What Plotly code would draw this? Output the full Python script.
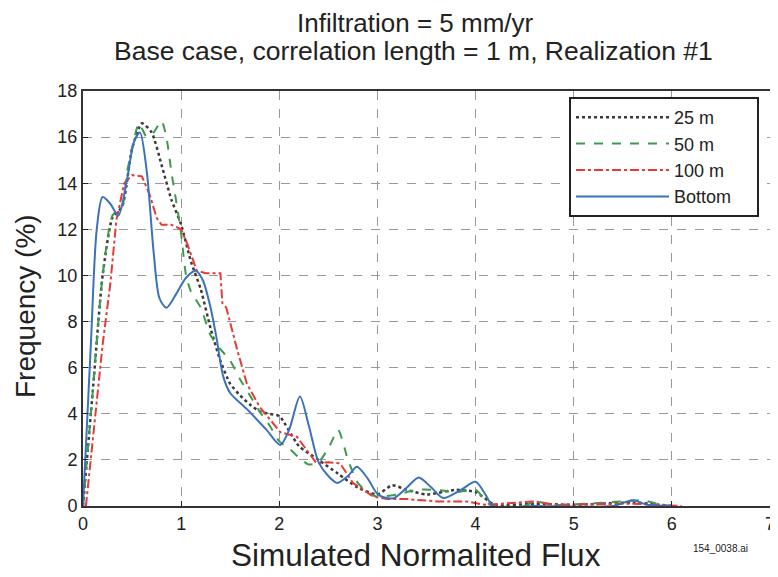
import plotly.graph_objects as go

x25 = [0, 0.1, 0.2, 0.3, 0.4, 0.5, 0.6, 0.7, 0.8, 0.9, 1.0, 1.1, 1.2, 1.3, 1.4, 1.5, 1.6, 1.7, 1.8, 1.9, 2.0,
       2.2, 2.4, 2.6, 2.8, 3.0, 3.15, 3.3, 3.5, 3.8, 4.0, 4.2, 4.6, 5.0, 5.6, 6.0]
y25 = [0, 5, 10, 12.5, 13, 15.5, 16.6, 16.2, 14.8, 13.3, 12.2, 10.6, 9.4, 7.7, 6.3, 5.3, 4.8, 4.4, 4.1, 4.0, 3.9,
       2.6, 2.0, 1.4, 0.8, 0.5, 0.9, 0.7, 0.5, 0.7, 0.6, 0.05, 0.1, 0.05, 0.15, 0]

x50 = [0, 0.1, 0.2, 0.3, 0.4, 0.45, 0.5, 0.57, 0.65, 0.72, 0.8, 0.85, 0.9, 0.95, 1.0, 1.05, 1.1, 1.2, 1.3, 1.4,
       1.5, 1.6, 1.7, 1.8, 1.9, 2.0, 2.1, 2.2, 2.3, 2.4, 2.5, 2.6, 2.7, 2.8, 2.9, 3.0, 3.2, 3.4, 3.6, 3.8, 4.0,
       4.15, 4.5, 4.6, 4.8, 5.5, 5.7, 5.9, 6.0]
y50 = [0, 5, 10, 12.6, 13, 14.5, 15.5, 16.6, 16.0, 16.2, 16.7, 16.0, 14.5, 13.2, 11.8, 10.0, 9.3, 8.6, 7.4, 6.8,
       6.3, 5.5, 4.8, 4.1, 3.5, 2.8, 2.5, 2.1, 1.8, 1.9, 2.5, 3.3, 2.0, 1.0, 0.6, 0.4, 0.5, 0.7, 0.7, 0.6, 0.7,
       0.05, 0.0, 0.2, 0.05, 0.2, 0.25, 0.05, 0]

x100 = [0.03, 0.1, 0.2, 0.28, 0.34, 0.42, 0.5, 0.6, 0.68, 0.75, 0.8, 0.9, 1.0, 1.06, 1.16, 1.25, 1.4, 1.42,
        1.46, 1.57, 1.67, 1.8, 1.91, 2.01, 2.18, 2.28, 2.38, 2.5, 2.62, 2.75, 2.96, 3.1, 3.3, 3.6, 3.9, 4.1,
        4.6, 4.8, 5.6, 6.1]
y100 = [0, 3, 7, 9.7, 12.4, 14.0, 14.35, 14.3, 13.5, 12.5, 12.2, 12.2, 12.0, 11.4, 10.2, 10.1, 10.1, 8.8,
        8.6, 6.8, 5.3, 4.3, 3.7, 3.2, 3.0, 2.4, 1.85, 1.9, 1.85, 1.0, 0.4, 0.3, 0.3, 0.2, 0.2, 0.05,
        0.2, 0.05, 0.1, 0]

xbot = [0, 0.08, 0.14, 0.2, 0.28, 0.36, 0.45, 0.52, 0.58, 0.65, 0.72, 0.78, 0.85, 0.95, 1.05, 1.15, 1.22, 1.3,
        1.36, 1.43, 1.5, 1.67, 1.87, 2.01, 2.1, 2.21, 2.3, 2.4, 2.5, 2.59, 2.7, 2.79, 2.9, 3.01, 3.16, 3.3,
        3.42, 3.55, 3.67, 3.85, 4.0, 4.1, 4.18, 4.6, 5.4, 5.6, 5.75, 6.0]
ybot = [0, 7, 12, 13.4, 13.1, 12.6, 14.2, 15.8, 16.2, 14.5, 11.0, 9.0, 8.6, 9.2, 9.9, 10.2, 9.8, 8.6,
        7.3, 5.6, 4.9, 4.2, 3.3, 2.65, 3.3, 4.75, 3.5, 1.9, 1.3, 1.0, 1.3, 1.7, 1.2, 0.48, 0.33, 0.8,
        1.24, 0.8, 0.35, 0.7, 1.05, 0.5, 0.0, 0.0, 0.0, 0.25, 0.05, 0]

xticks = [0, 1, 2, 3, 4, 5, 6, 7]
yticks = [0, 2, 4, 6, 8, 10, 12, 14, 16, 18]

FONT = "Liberation Sans, Arial, sans-serif"
INK = "#222"
PAD = "&nbsp;" * 4

fig = go.Figure()
fig.add_trace(go.Scatter(x=x25, y=y25, name="25 m" + PAD, mode="lines",
                         line=dict(color="#3a3a3a", dash="dot", width=2.5, shape="spline", smoothing=0.6)))
fig.add_trace(go.Scatter(x=x50, y=y50, name="50 m", mode="lines",
                         line=dict(color="#3f9a4e", dash="dash", width=2, shape="spline", smoothing=0.6)))
fig.add_trace(go.Scatter(x=x100, y=y100, name="100 m", mode="lines",
                         line=dict(color="#e63a34", dash="dashdot", width=2, shape="linear")))
fig.add_trace(go.Scatter(x=xbot, y=ybot, name="Bottom" + PAD, mode="lines",
                         line=dict(color="#3c72b8", width=2, shape="spline", smoothing=0.8)))

# page has an 8px body margin: figure is 770x569 placed at page (8, 8)
# plot area spans page x 83..770, y 91..506
fig.update_layout(
    width=770, height=569,
    margin=dict(l=75, r=8, t=83, b=71, autoexpand=False),
    paper_bgcolor="white", plot_bgcolor="white",
    font=dict(family=FONT, color=INK),
    legend=dict(x=(569 - 83) / 687, y=(506 - 97) / 415, xanchor="left", yanchor="top",
                bgcolor="white", bordercolor=INK, borderwidth=2, itemwidth=93,
                font=dict(size=18, family=FONT, color=INK), tracegroupgap=0),
    showlegend=True,
)
fig.update_xaxes(range=[0, 7], tickvals=xticks, ticktext=[str(v) for v in xticks],
                 showgrid=True, gridcolor="#999", griddash="dash", gridwidth=1,
                 showline=True, linecolor="#333", linewidth=2, mirror=True,
                 ticks="inside", ticklen=5, tickcolor=INK, automargin=False,
                 tickfont=dict(size=18, family=FONT, color=INK), zeroline=False)
fig.update_yaxes(range=[0, 18], tickvals=yticks, ticktext=[str(v) for v in yticks],
                 showgrid=True, gridcolor="#999", griddash="dash", gridwidth=1,
                 showline=True, linecolor="#333", linewidth=2, mirror=True,
                 ticks="inside", ticklen=5, tickcolor=INK, automargin=False,
                 tickfont=dict(size=18, family=FONT, color=INK), zeroline=False)

fig.add_annotation(text="Infiltration = 5 mm/yr", xref="paper", yref="paper",
                   x=(415 - 83) / 687, y=1 + (91 - 23) / 415, xanchor="center", yanchor="middle",
                   showarrow=False, font=dict(size=26, family=FONT, color=INK))
fig.add_annotation(text="Base case, correlation length = 1 m, Realization #1", xref="paper", yref="paper",
                   x=(413 - 83) / 687, y=1 + (91 - 51) / 415, xanchor="center", yanchor="middle",
                   showarrow=False, font=dict(size=26.5, family=FONT, color=INK))
fig.add_annotation(text="Frequency (%)", xref="paper", yref="paper", textangle=-90,
                   x=(25 - 83) / 687, y=(506 - 306) / 415, xanchor="center", yanchor="middle",
                   showarrow=False, font=dict(size=28, family=FONT, color=INK))
fig.add_annotation(text="Simulated Normalited Flux", xref="paper", yref="paper",
                   x=(416 - 83) / 687, y=(506 - 555) / 415, xanchor="center", yanchor="middle",
                   showarrow=False, font=dict(size=31.5, family=FONT, color=INK))
fig.add_annotation(text="154_0038.ai", xref="paper", yref="paper",
                   x=(750 - 83) / 687, y=(506 - 548) / 415, xanchor="right", yanchor="middle",
                   showarrow=False, font=dict(size=10, family=FONT, color=INK))

fig.write_html("out.html")
